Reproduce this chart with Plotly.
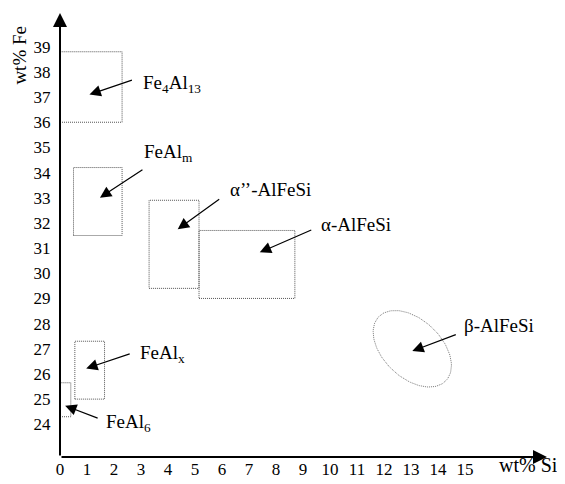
import numpy as np
import plotly.graph_objects as go

# composition ranges of the intermetallic phases (wt% Si / wt% Fe)
phase_names = [
    "Fe<sub>4</sub>Al<sub>13</sub>",
    "FeAl<sub>m</sub>",
    "α’’-AlFeSi",
    "α-AlFeSi",
    "FeAl<sub>x</sub>",
    "FeAl<sub>6</sub>",
]
si_lo = [0.0, 0.5, 3.3, 5.15, 0.55, 0.0]
si_hi = [2.3, 2.3, 5.15, 8.7, 1.65, 0.4]
fe_lo = [36.0, 31.5, 29.4, 29.0, 25.0, 24.3]
fe_hi = [38.8, 34.2, 32.9, 31.7, 27.3, 25.65]

# beta phase is drawn as a tilted ellipse: centre and half extents
beta_name = "β-AlFeSi"
beta_si, beta_fe = 13.05, 27.0
beta_dsi, beta_dfe = 1.45, 1.52

si_ticks = list(range(0, 16))
fe_ticks = list(range(24, 40))

# label placement: arrow tip (data), tail offset (px), text offset (px)
label_layout = {
    "Fe<sub>4</sub>Al<sub>13</sub>": dict(tip=(1.09, 37.1), tail=(44, -15), txt=(52, -11)),
    "FeAl<sub>m</sub>": dict(tip=(1.48, 33.0), tail=(44, -29), txt=(42, -45)),
    "α’’-AlFeSi": dict(tip=(4.36, 31.75), tail=(43, -31), txt=(50, -40)),
    "α-AlFeSi": dict(tip=(7.4, 30.83), tail=(53, -23), txt=(59, -28)),
    "β-AlFeSi": dict(tip=(13.05, 26.91), tail=(45, -17), txt=(50, -26)),
    "FeAl<sub>x</sub>": dict(tip=(0.97, 26.22), tail=(45, -15), txt=(52, -14)),
    "FeAl<sub>6</sub>": dict(tip=(0.19, 24.74), tail=(34, 13), txt=(39, 17)),
}

SI_MAX = 18.04
FE_MIN, FE_MAX = 22.7, 40.34
serif = "Liberation Serif"
dotted = dict(color="#555555", width=1, dash="1px,1px")

fig = go.Figure()

# dotted boxes for each phase
for i in range(len(phase_names)):
    fig.add_shape(
        type="rect",
        x0=si_lo[i],
        x1=si_hi[i],
        y0=fe_lo[i],
        y1=fe_hi[i],
        line=dotted,
    )

# dotted ellipse for beta
t = np.linspace(0, 2 * np.pi, 160)
fig.add_trace(
    go.Scatter(
        x=beta_si + beta_dsi * np.cos(t),
        y=beta_fe - beta_dfe * np.cos(t - np.radians(64)),
        mode="lines",
        line=dict(color="#777777", width=1, dash="1px,1px"),
        hoverinfo="skip",
    )
)

# arrows and phase labels
for name in phase_names + [beta_name]:
    lay = label_layout[name]
    fig.add_annotation(
        x=lay["tip"][0],
        y=lay["tip"][1],
        ax=lay["tail"][0],
        ay=lay["tail"][1],
        text="",
        showarrow=True,
        arrowhead=2,
        arrowsize=1.9,
        arrowwidth=1.2,
        arrowcolor="black",
    )
    fig.add_annotation(
        x=lay["tip"][0],
        y=lay["tip"][1],
        text=name,
        showarrow=False,
        xanchor="left",
        yanchor="middle",
        xshift=lay["txt"][0],
        yshift=-lay["txt"][1],
        font=dict(family=serif, size=19),
    )

# axes with arrow heads
fig.add_annotation(
    x=0, y=FE_MAX, ax=0, ay=FE_MIN, axref="x", ayref="y", text="",
    showarrow=True, arrowhead=2, arrowsize=1.4, arrowwidth=2, arrowcolor="black",
)
fig.add_annotation(
    x=SI_MAX, y=FE_MIN, ax=0, ay=FE_MIN, axref="x", ayref="y", text="",
    showarrow=True, arrowhead=2, arrowsize=1.4, arrowwidth=2, arrowcolor="black",
)

# axis titles
fig.add_annotation(
    x=0, y=0.904, xref="paper", yref="paper", xshift=-40,
    xanchor="center", yanchor="middle", text="wt% Fe",
    textangle=-90, showarrow=False, font=dict(family=serif, size=19),
)
fig.add_annotation(
    x=0.961, y=-0.018, xref="paper", yref="paper",
    xanchor="center", yanchor="middle", text="wt% Si",
    showarrow=False, font=dict(family=serif, size=20),
)

# the page body adds an 8px offset, so the figure is 8px smaller
fig.update_layout(
    width=557,
    height=476,
    margin=dict(l=52, r=18, t=5, b=24),
    plot_bgcolor="white",
    paper_bgcolor="white",
    showlegend=False,
    font=dict(family=serif, color="black", size=17),
    xaxis=dict(
        range=[0, SI_MAX],
        tickvals=si_ticks,
        showline=False,
        showgrid=False,
        zeroline=False,
        ticks="",
    ),
    yaxis=dict(
        range=[FE_MIN, FE_MAX],
        tickvals=fe_ticks,
        showline=False,
        showgrid=False,
        zeroline=False,
        ticks="outside",
        ticklen=5,
        tickcolor="rgba(0,0,0,0)",
    ),
)

fig.write_html("out.html")
